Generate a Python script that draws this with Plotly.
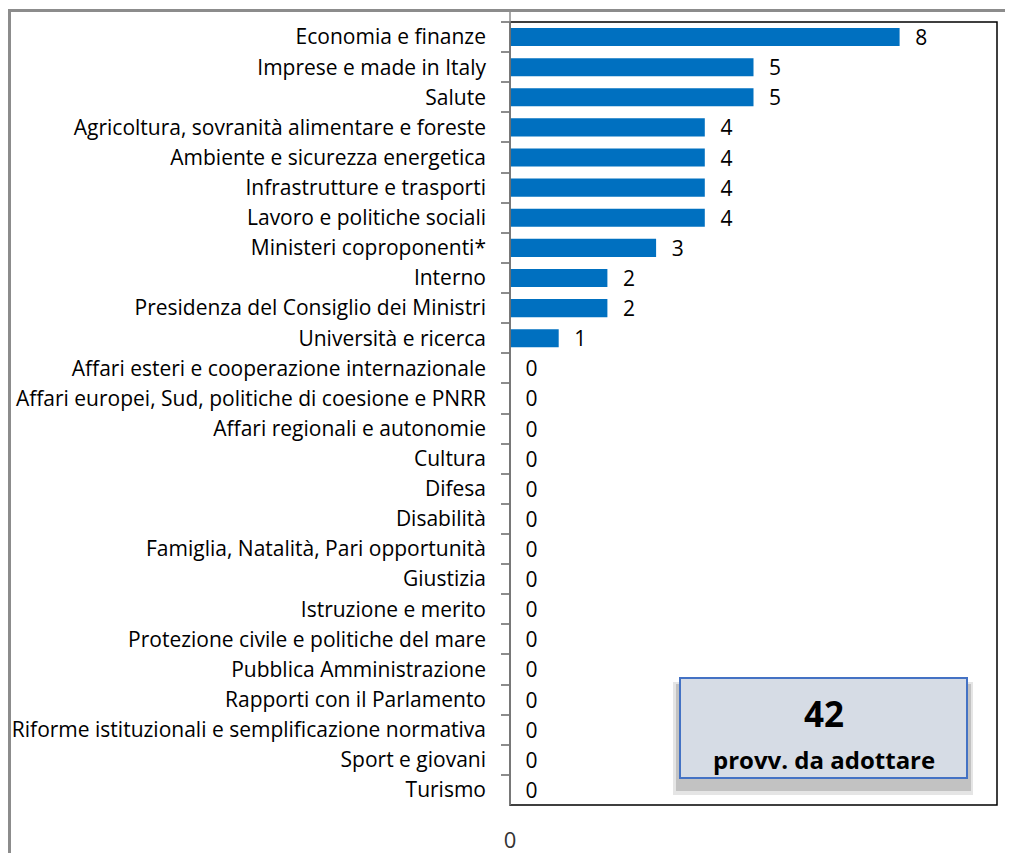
import plotly.graph_objects as go

categories = [
    "Economia e finanze",
    "Imprese e made in Italy",
    "Salute",
    "Agricoltura, sovranità alimentare e foreste",
    "Ambiente e sicurezza energetica",
    "Infrastrutture e trasporti",
    "Lavoro e politiche sociali",
    "Ministeri coproponenti*",
    "Interno",
    "Presidenza del Consiglio dei Ministri",
    "Università e ricerca",
    "Affari esteri e cooperazione internazionale",
    "Affari europei, Sud, politiche di coesione e PNRR",
    "Affari regionali e autonomie",
    "Cultura",
    "Difesa",
    "Disabilità",
    "Famiglia, Natalità, Pari opportunità",
    "Giustizia",
    "Istruzione e merito",
    "Protezione civile e politiche del mare",
    "Pubblica Amministrazione",
    "Rapporti con il Parlamento",
    "Riforme istituzionali e semplificazione normativa",
    "Sport e giovani",
    "Turismo",
]
values = [8, 5, 5, 4, 4, 4, 4, 3, 2, 2, 1, 0, 0, 0, 0, 0, 0, 0, 0, 0, 0, 0, 0, 0, 0, 0]
total_value = "42"
total_label = "provv. da adottare"
x_ticks = [0]

# page body has an 8px margin: figure origin sits at screen (8, 8)
OX, OY = 8, 8
SW, SH = 1013, 853
W, H = SW - OX, SH - OY
# plot area in screen pixels
PL, PR, PT, PB = 510, 997, 22, 805
ML, MR, MT, MB = PL - OX, (OX + W) - PR, PT - OY, (OY + H) - PB
PW = PR - PL
PH = PB - PT


def px_x(p):
    return (p - PL) / PW


def px_y(p):
    return 1 - (p - PT) / PH


FONT = "Open Sans"

fig = go.Figure()
fig.add_trace(go.Bar(
    y=categories,
    x=values,
    orientation="h",
    marker=dict(color="#0070C0", line=dict(width=0)),
    width=0.6,
    text=[f"\u2002\u200a{v}" for v in values],
    textposition="outside",
    constraintext="none",
    textfont=dict(family=FONT, size=21, color="#000000"),
    cliponaxis=False,
    hoverinfo="skip",
))

shapes = [
    # outer gray frame (continues past right/bottom edges)
    dict(type="rect", xref="paper", yref="paper",
         x0=px_x(9.5), x1=px_x(1040), y0=px_y(900), y1=px_y(10.5),
         line=dict(color="#8c8c8c", width=3), fillcolor="rgba(0,0,0,0)", layer="below"),
    # plot area black border
    dict(type="rect", xref="paper", yref="paper",
         x0=0, x1=1, y0=0, y1=1,
         line=dict(color="#000000", width=1.5), fillcolor="rgba(0,0,0,0)"),
    # gray axis line (extends slightly above plot area)
    dict(type="line", xref="paper", yref="paper",
         x0=0, x1=0, y0=0, y1=px_y(12),
         line=dict(color="#8c8c8c", width=1.5)),
    # soft box shadow (layered)
    dict(type="rect", xref="paper", yref="paper",
         x0=px_x(673), x1=px_x(973), y0=px_y(795), y1=px_y(682),
         line=dict(width=0), fillcolor="rgba(150,150,150,0.25)"),
    dict(type="rect", xref="paper", yref="paper",
         x0=px_x(676), x1=px_x(971), y0=px_y(791), y1=px_y(684),
         line=dict(width=0), fillcolor="rgba(130,130,130,0.35)"),
    # box
    dict(type="rect", xref="paper", yref="paper",
         x0=px_x(680), x1=px_x(967), y0=px_y(778), y1=px_y(678),
         line=dict(color="#4472C4", width=2), fillcolor="#D6DCE5"),
]

annotations = [
    dict(xref="paper", yref="paper", x=px_x(824), y=px_y(713),
         text=f"<b>{total_value}</b>", showarrow=False,
         font=dict(family=FONT, size=35, color="#000000"), xanchor="center", yanchor="middle"),
    dict(xref="paper", yref="paper", x=px_x(824), y=px_y(759),
         text=f"<b>{total_label}</b>", showarrow=False,
         font=dict(family=FONT, size=24, color="#000000"), xanchor="center", yanchor="middle"),
]

fig.update_layout(
    width=W, height=H,
    margin=dict(l=ML, r=MR, t=MT, b=MB, pad=0, autoexpand=False),
    paper_bgcolor="white",
    plot_bgcolor="white",
    showlegend=False,
    shapes=shapes,
    annotations=annotations,
)
fig.update_yaxes(
    automargin=False,
    autorange="reversed",
    categoryorder="array", categoryarray=categories,
    tickson="boundaries", ticks="outside", ticklen=8, tickwidth=1.5, tickcolor="#8c8c8c",
    showline=False, showgrid=False,
    tickfont=dict(family=FONT, size=21, color="#000000"),
    ticklabelstandoff=23,
)
fig.update_xaxes(
    automargin=False,
    range=[0, 10],
    tickvals=x_ticks, ticktext=[str(t) for t in x_ticks],
    showgrid=False, zeroline=False, showline=False, ticks="",
    tickfont=dict(family=FONT, size=22, color="#333333"),
    ticklabelstandoff=20,
)

fig.write_html("out.html")
